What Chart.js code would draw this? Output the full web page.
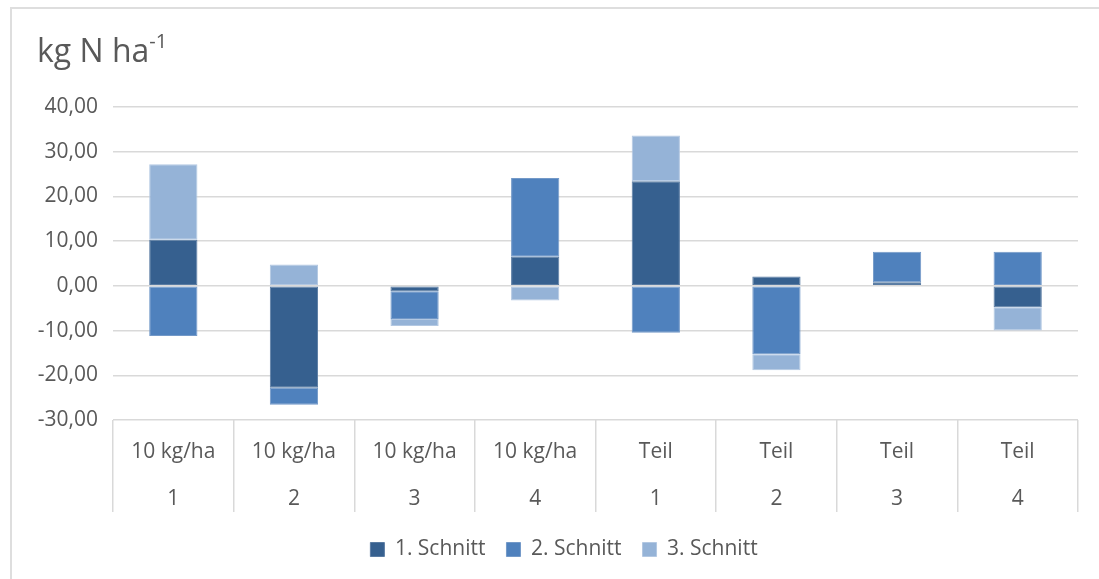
<!DOCTYPE html>
<html>
<head>
<meta charset="utf-8">
<script src="https://cdn.jsdelivr.net/npm/chart.js@4/dist/chart.umd.min.js"></script>
<style>
  html, body { margin: 0; padding: 0; background: #ffffff; }
  #wrap { position: relative; width: 1099px; height: 579px; overflow: hidden; }
  #frame { position: absolute; left: 10px; top: 7px; width: 1200px; height: 700px;
           border-left: 2px solid #dedede; border-top: 2px solid #dedede; }
  #title { position: absolute; left: 37px; top: 34px; font-family: "Open Sans", sans-serif;
           font-size: 32px; line-height: 32px; color: #595959; white-space: nowrap; }
  #title sup { font-size: 20px; line-height: 0; position: relative; top: -2px; }
  canvas { position: absolute; left: 0; top: 0; }
</style>
</head>
<body>
<div id="wrap">
  <div id="frame"></div>
  <canvas id="c" width="1099" height="579"></canvas>
  <div id="title">kg N ha<sup>-1</sup></div>
</div>
<script>
const groupLabels = ["10 kg/ha", "10 kg/ha", "10 kg/ha", "10 kg/ha", "Teil", "Teil", "Teil", "Teil"];
const subLabels = ["1", "2", "3", "4", "1", "2", "3", "4"];
const seriesNames = ["1. Schnitt", "2. Schnitt", "3. Schnitt"];
const schnitt1 = [10.3, -22.8, -1.2, 6.5, 23.4, 2.1, 0.8, -4.8];
const schnitt2 = [-11.2, -3.8, -6.2, 17.6, -10.5, -15.3, 6.8, 7.6];
const schnitt3 = [16.9, 4.8, -1.6, -3.3, 10.2, -3.6, 0, -5.2];
const yMin = -30, yMax = 40, yStep = 10;

const colors = ["#36608f", "#4f81bd", "#95b3d7"];
const edge = ["#5a7ca3", "#7399c8", "#b3c8e2"];
const textColor = "#595959";
const font = "'Open Sans', sans-serif";

const labels = groupLabels.map((g, i) => [g, subLabels[i]]);
const seriesData = [schnitt1, schnitt2, schnitt3];

const legendShift = {
  id: "legendShift",
  afterLayout(chart) {
    if (chart.legend) { chart.legend.left += 22; }
  }
};

new Chart(document.getElementById("c"), {
  type: "bar",
  data: {
    labels: labels,
    datasets: seriesData.map((d, i) => ({
      label: seriesNames[i],
      data: d,
      backgroundColor: colors[i],
      borderColor: edge[i],
      borderWidth: 1,
      borderSkipped: false,
      categoryPercentage: 1,
      barPercentage: 0.4
    }))
  },
  plugins: [legendShift],
  options: {
    responsive: false,
    animation: false,
    devicePixelRatio: 1,
    layout: { padding: { left: 28, right: 21, top: 107, bottom: 9 } },
    plugins: {
      title: { display: false },
      tooltip: { enabled: false },
      legend: {
        position: "bottom",
        labels: {
          boxWidth: 14, boxHeight: 14, padding: 21,
          color: textColor,
          font: { family: font, size: 21 }
        }
      }
    },
    scales: {
      x: {
        stacked: true,
        offset: true,
        border: { display: false },
        grid: {
          offset: true,
          drawOnChartArea: false,
          drawTicks: true,
          tickLength: 92,
          color: "#d9d9d9",
          lineWidth: 1.5
        },
        ticks: {
          color: textColor,
          padding: -83,
          maxRotation: 0,
          autoSkip: false,
          font: { family: font, size: 21, lineHeight: 47 / 21 }
        },
        afterFit: s => { s.height = 98; }
      },
      y: {
        stacked: true,
        min: yMin, max: yMax,
        border: { display: false },
        grid: { color: "#d9d9d9", lineWidth: 1.5, drawTicks: false },
        ticks: {
          stepSize: yStep,
          padding: 15,
          color: textColor,
          font: { family: font, size: 21 },
          callback: v => v.toFixed(2).replace(".", ",")
        },
        afterFit: s => { s.width = 85; }
      }
    }
  }
});
</script>
</body>
</html>
